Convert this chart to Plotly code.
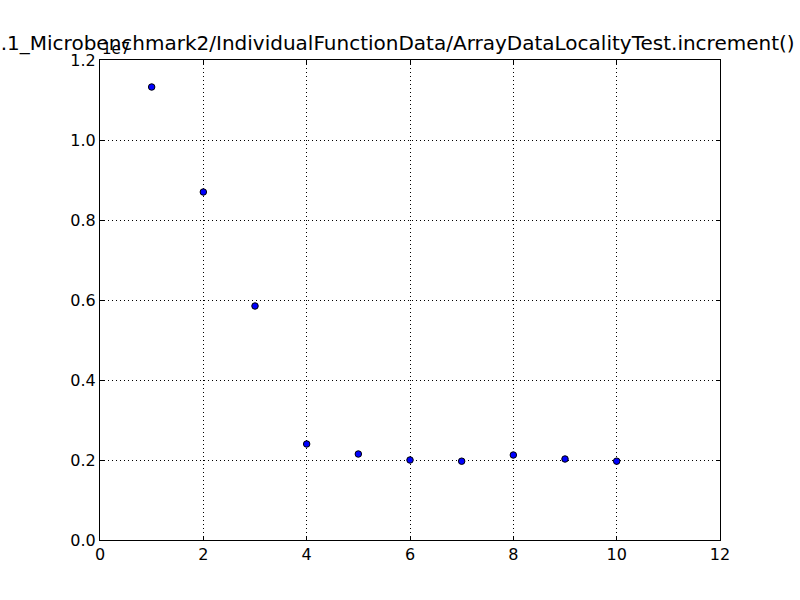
import plotly.graph_objects as go

# run index vs measured value (scaled by 1e7 on the axis)
runs = [1, 2, 3, 4, 5, 6, 7, 8, 9, 10]
values = [1.1325e7, 0.870e7, 0.585e7, 0.240e7, 0.215e7, 0.200e7, 0.197e7, 0.2125e7, 0.2025e7, 0.197e7]
scale = 1e7
title_text = "1.1_Microbenchmark2/IndividualFunctionData/ArrayDataLocalityTest.increment()"

x_ticks = [0, 2, 4, 6, 8, 10, 12]
y_ticks = [0.0, 0.2, 0.4, 0.6, 0.8, 1.0, 1.2]

fig = go.Figure()
fig.add_trace(go.Scatter(
    x=runs, y=[v / scale for v in values], mode="markers",
    marker=dict(size=6.5, color="#0000ff", line=dict(color="black", width=1)),
    showlegend=False,
))

axis_style = dict(
    showline=True, linecolor="black", linewidth=1, mirror="ticks",
    ticks="inside", ticklen=4, tickcolor="black",
    showgrid=True, gridcolor="black", gridwidth=0.6, griddash="1px,3px",
    zeroline=False, tickfont=dict(size=16, color="black"),
)
fig.update_xaxes(range=[0, 12], tickvals=x_ticks, ticktext=[str(t) for t in x_ticks], **axis_style)
fig.update_yaxes(range=[0, 1.2], tickvals=y_ticks, ticktext=["%.1f" % t for t in y_ticks], **axis_style)

# title is wider than the figure in the original, so the left end gets cut
fig.add_annotation(text=title_text, xref="paper", yref="paper", x=(797 - 100) / 620, y=1,
                   xanchor="right", yanchor="bottom", yshift=3, showarrow=False,
                   font=dict(size=20, color="black"))
fig.add_annotation(text="1e7", xref="paper", yref="paper", x=0, y=1,
                   xanchor="left", yanchor="bottom", yshift=0, showarrow=False,
                   font=dict(size=15, color="black"))

fig.update_layout(
    width=800, height=600,
    margin=dict(l=100, r=80, t=60, b=60),
    plot_bgcolor="white", paper_bgcolor="white",
    font=dict(family="DejaVu Sans", color="black"),
)
fig.write_html("out.html", config={"displayModeBar": False},
               post_script="document.body.style.margin='0';")
